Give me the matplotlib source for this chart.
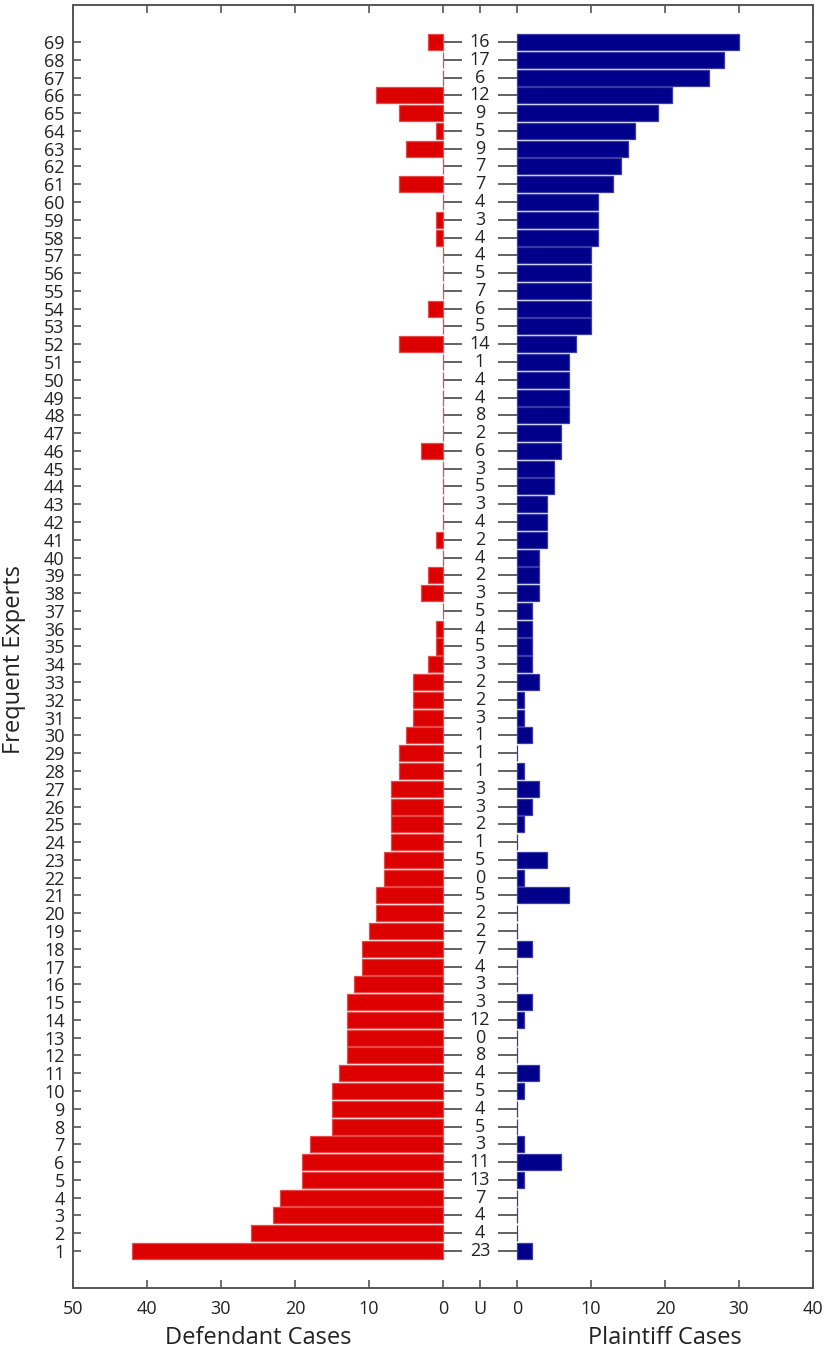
import matplotlib
matplotlib.use("Agg")
import matplotlib.pyplot as plt
import matplotlib.transforms as mtransforms

plt.rcParams['font.family'] = ['Open Sans', 'DejaVu Sans']

experts = list(range(1, 70))
defendant = [42, 26, 23, 22, 19, 19, 18, 15, 15, 15, 14, 13, 13, 13, 13, 12, 11, 11, 10, 9,
             9, 8, 8, 7, 7, 7, 7, 6, 6, 5, 4, 4, 4, 2, 1, 1, 0, 3, 2, 0,
             1, 0, 0, 0, 0, 3, 0, 0, 0, 0, 0, 6, 0, 2, 0, 0, 0, 1, 1, 0,
             6, 0, 5, 1, 6, 9, 0, 0, 2]
plaintiff = [2, 0, 0, 0, 1, 6, 1, 0, 0, 1, 3, 0, 0, 1, 2, 0, 0, 2, 0, 0,
             7, 1, 4, 0, 1, 2, 3, 1, 0, 2, 1, 1, 3, 2, 2, 2, 2, 3, 3, 3,
             4, 4, 4, 5, 5, 6, 6, 7, 7, 7, 7, 8, 10, 10, 10, 10, 10, 11, 11, 11,
             13, 14, 15, 16, 19, 21, 26, 28, 30]
unknown = [23, 4, 4, 7, 13, 11, 3, 5, 4, 5, 4, 8, 0, 12, 3, 3, 4, 7, 2, 2,
           5, 0, 5, 1, 2, 3, 3, 1, 1, 1, 3, 2, 2, 3, 5, 4, 5, 3, 2, 4,
           2, 4, 3, 5, 3, 6, 2, 8, 4, 4, 1, 14, 5, 6, 7, 5, 4, 4, 3, 4,
           7, 7, 9, 5, 9, 12, 6, 17, 16]

left_ticks = [50, 40, 30, 20, 10, 0]
right_ticks = [0, 10, 20, 30, 40]

OFF = 5  # half-width of the middle "U" column in data units
RED = '#dd0000'
BLUE = '#00008b'
TXT = '#222222'
SPINE = '#555555'

fig = plt.figure(figsize=(8.28, 13.53), dpi=100)
ax = fig.add_axes([73 / 828, 1 - 1288 / 1353, (813 - 73) / 828, (1288 - 5) / 1353])

ax.barh(experts, [-d for d in defendant], left=-OFF, height=0.9, color=RED,
        edgecolor='#e84a4a', linewidth=0.9, zorder=2)
ax.barh(experts, plaintiff, left=OFF, height=0.9, color=BLUE,
        edgecolor='#3a3aa8', linewidth=0.9, zorder=2)

for yv, u in zip(experts, unknown):
    ax.text(0, yv, str(u), ha='center', va='center', fontsize=13, color=TXT)
ax.hlines(experts, -OFF, -2.4, color=SPINE, lw=1.3, zorder=1)
ax.hlines(experts, 2.4, OFF, color=SPINE, lw=1.3, zorder=1)

ax.set_xlim(-55, 45)
ax.set_ylim(-1.08, 71.08)

xt = [-OFF - v for v in left_ticks] + [0] + [OFF + v for v in right_ticks]
xl = [str(v) for v in left_ticks] + ['U'] + [str(v) for v in right_ticks]
ax.set_xticks(xt)
ax.set_xticklabels(xl)
ax.set_yticks(experts)
ax.set_yticklabels([str(e) for e in experts])

ax.tick_params(direction='in', top=True, right=True, length=6, width=1.2,
               color=SPINE, labelsize=13, labelcolor=TXT, pad=6)
ax.tick_params(axis='x', pad=9)
for s in ax.spines.values():
    s.set_color(SPINE)
    s.set_linewidth(1.4)

ax.set_ylabel('Frequent Experts', fontsize=17, color=TXT)
ax.yaxis.set_label_coords(-0.064, 0.49)

trans = mtransforms.blended_transform_factory(ax.transData, ax.transAxes)
ax.text(-30, -0.039, 'Defendant Cases', transform=trans, ha='center', va='center',
        fontsize=17, color=TXT)
ax.text(25, -0.039, 'Plaintiff Cases', transform=trans, ha='center', va='center',
        fontsize=17, color=TXT)

fig.savefig('out.png', dpi=100)
